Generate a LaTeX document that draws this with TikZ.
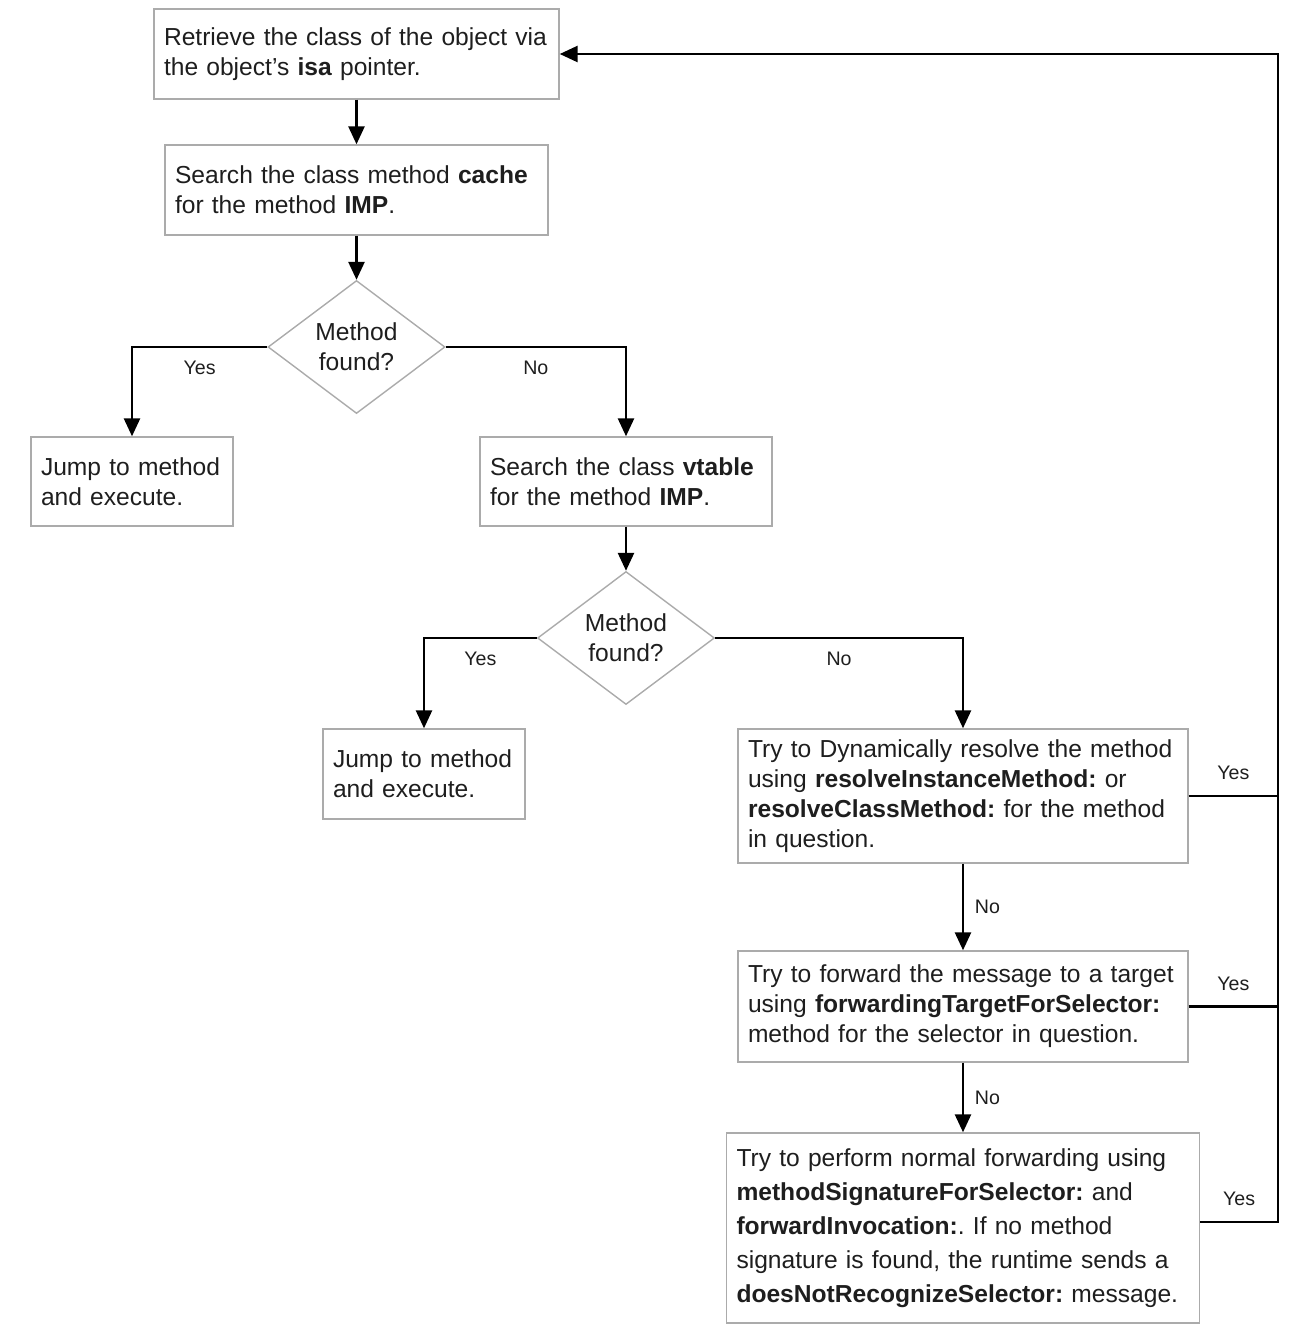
\documentclass[tikz,border=0pt]{standalone}
\usepackage{fontspec}
\setmainfont{Liberation Sans}
\usepackage{xcolor}
\usepackage{tikz}
\usetikzlibrary{arrows.meta,shapes.geometric}
\frenchspacing

\definecolor{boxline}{HTML}{ABABAB}
\definecolor{txt}{HTML}{1E1E1E}

\begin{document}
\begin{tikzpicture}[x=0.5pt, y=-0.5pt,
			box/.style={draw=boxline, line width=0.7pt, rectangle, align=left, inner sep=5pt, text=txt,
				font=\fontsize{12.3}{15}\selectfont},
			decision/.style={draw=boxline, line width=0.7pt, diamond, aspect=1.33, inner sep=0pt,
				minimum width=88.5pt, minimum height=66.5pt, align=center, text=txt,
				font=\fontsize{12.3}{15}\selectfont},
			tag/.style={text=txt, font=\fontsize{9.8}{12}\selectfont},
			arrow/.style={-{Triangle[length=9pt, width=8pt]}, line width=1.3pt},
			line/.style={line width=1.3pt}]
			
			\useasboundingbox (0,0) rectangle (1292,1330);
			
			\node[box, minimum width=202.5pt, minimum height=45pt, text width=192.5pt] (isa) at (356.5,54)
				{Retrieve the class of the object via\\the object's \textbf{isa} pointer.};
			\node[box, minimum width=191.5pt, minimum height=45pt, text width=181.5pt] (cache) at (356.5,190)
				{Search the class method \textbf{cache}\\for the method \textbf{IMP}.};
			\node[decision] (found1) at (356.5,347) {Method\\found?};
			\node[box, minimum width=101pt, minimum height=44.5pt, text width=91pt] (jump1) at (132,481.5)
				{Jump to method\\and execute.};
			\node[box, minimum width=146pt, minimum height=44.5pt, text width=136pt] (vtable) at (626,481.5)
				{Search the class \textbf{vtable}\\for the method \textbf{IMP}.};
			\node[decision] (found2) at (626,638) {Method\\found?};
			\node[box, minimum width=101pt, minimum height=45pt, text width=91pt] (jump2) at (424,774)
				{Jump to method\\and execute.};
			\node[box, minimum width=225pt, minimum height=67pt, text width=215pt] (resolve) at (963,796)
				{Try to Dynamically resolve the method\\using \textbf{resolveInstanceMethod:} or\\\textbf{resolveClassMethod:} for the method\\in question.};
			\node[box, minimum width=225pt, minimum height=55.5pt, text width=215pt] (target) at (963,1006.5)
				{Try to forward the message to a target\\using \textbf{forwardingTargetForSelector:}\\method for the selector in question.};
			\node[box, minimum width=236.5pt, minimum height=95pt, text width=226.5pt, font=\fontsize{12.3}{17}\selectfont] (normal) at (963,1228)
				{Try to perform normal forwarding using\\\textbf{methodSignatureForSelector:} and\\\textbf{forwardInvocation:}. If no method\\signature is found, the runtime sends a\\\textbf{doesNotRecognizeSelector:} message.};
			\coordinate (back) at (1278,1222);
			
			\draw[arrow] (isa) -- (cache);
			\draw[arrow] (cache) -- (found1);
			\draw[arrow] (found1.west) -| (jump1.north) node[tag, pos=0.25, below=3pt] {Yes};
			\draw[arrow] (found1.east) -| (vtable.north) node[tag, pos=0.25, below=3pt] {No};
			\draw[arrow] (vtable) -- (found2);
			\draw[arrow] (found2.west) -| (jump2.north) node[tag, pos=0.25, below=3pt] {Yes};
			\draw[arrow] (found2.east) -| (resolve.north) node[tag, pos=0.25, below=3pt] {No};
			\draw[arrow] (resolve) -- (target) node[tag, midway, right=2pt] {No};
			\draw[arrow] (target) -- (normal) node[tag, midway, right=2pt] {No};
			
			\draw[line] (resolve.east) -- (resolve.east -| back) node[tag, midway, above=4pt] {Yes};
			\draw[line] (target.east) -- (target.east -| back) node[tag, midway, above=4pt] {Yes};
			\draw[arrow] ([yshift=3pt]normal.east) -- (back) node[tag, midway, above=4pt] {Yes} |- (isa.east);
			
		\end{tikzpicture}
\end{document}
